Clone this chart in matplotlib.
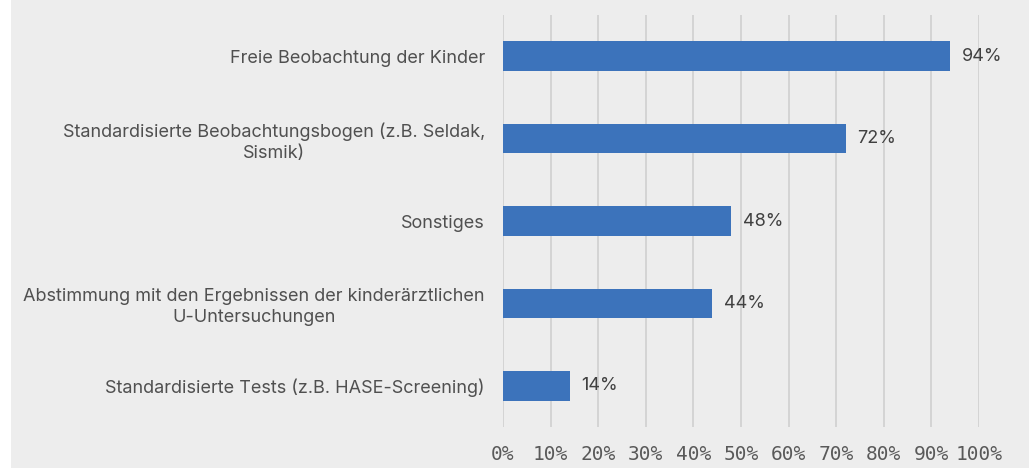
import matplotlib.pyplot as plt
from matplotlib.patches import Rectangle

# data
categories = [
    'Freie Beobachtung der Kinder',
    'Standardisierte Beobachtungsbogen (z.B. Seldak,\nSismik)',
    'Sonstiges',
    'Abstimmung mit den Ergebnissen der kinderärztlichen\nU-Untersuchungen',
    'Standardisierte Tests (z.B. HASE-Screening)',
]
values = [94, 72, 48, 44, 14]
ticks = list(range(0, 101, 10))
tick_labels = [f'{t}%' for t in ticks]

bg = '#EDEDED'
bar_color = '#3C73BB'
text_color = '#404040'

fig = plt.figure(figsize=(10.29, 4.68), dpi=100, facecolor=bg)
# white strip on the left edge
fig.patches.append(Rectangle((0, 0), 11 / 1029, 1, transform=fig.transFigure,
                             facecolor='white', edgecolor='none', zorder=0))

ax = fig.add_axes([503 / 1029, 1 - 427 / 468, 476 / 1029, 412 / 468])
ax.set_facecolor(bg)

y = list(range(len(categories)))
ax.barh(y, values, height=0.36, color=bar_color, zorder=3)
ax.set_ylim(len(categories) - 0.5, -0.5)
ax.set_xlim(0, 100)

for yi, v in zip(y, values):
    ax.text(v + 2.5, yi, f'{v}%', va='center', ha='left', fontsize=13,
            color=text_color, family='Inter')

ax.set_yticks(y)
ax.set_yticklabels(categories, fontsize=13, color='#505050', family='Inter',
                   multialignment='center', linespacing=1.3)
ax.set_xticks(ticks)
ax.set_xticklabels(tick_labels, fontsize=14, color='#595959', family='DejaVu Sans Mono')
ax.tick_params(axis='y', length=0, pad=13)
ax.tick_params(axis='x', length=0, pad=13)

ax.grid(axis='x', color='#D0D0D0', linewidth=1.2, zorder=0)
ax.grid(axis='y', visible=False)
for s in ax.spines.values():
    s.set_visible(False)

fig.savefig('out.png', dpi=100, facecolor=bg)
